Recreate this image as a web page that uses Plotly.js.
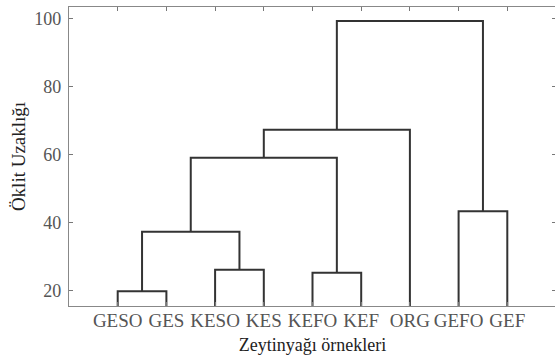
<!DOCTYPE html>
<html>
<head>
<meta charset="utf-8">
<script src="https://cdn.plot.ly/plotly-3.0.1.min.js"></script>
<style>
html, body { margin: 0; padding: 0; overflow: hidden; background: #fff; }
#chart { width: 556px; height: 358px; }
</style>
</head>
<body>
<div id="chart"></div>
<script>
// Leaf labels (in dendrogram order)
const leafLabels = ["GESO", "GES", "KESO", "KES", "KEFO", "KEF", "ORG", "GEFO", "GEF"];
// Linkage: new cluster ids start at leafLabels.length (9, 10, ...)
const mergeLeft   = [0, 4, 2, 9, 7, 12, 14, 15];
const mergeRight  = [1, 5, 3, 11, 8, 10, 6, 13];
const mergeHeight = [19.8, 25.2, 26.1, 37.3, 43.3, 59.0, 67.2, 99.2];
const yTicks = [20, 40, 60, 80, 100];

// Build dendrogram segments from linkage
const nLeaves = leafLabels.length;
const pos = {}, hgt = {};
leafLabels.forEach((l, i) => { pos[i] = i + 1; hgt[i] = 0; });
const xs = [], ys = [];
mergeLeft.forEach((a, k) => {
  const b = mergeRight[k], h = mergeHeight[k], id = nLeaves + k;
  xs.push(pos[a], pos[a], pos[b], pos[b], null);
  ys.push(hgt[a], h, h, hgt[b], null);
  pos[id] = (pos[a] + pos[b]) / 2;
  hgt[id] = h;
});

const trace = {
  x: xs, y: ys, type: 'scatter', mode: 'lines',
  line: { color: '#333333', width: 2 },
  hoverinfo: 'skip', showlegend: false
};

const SERIF = 'Liberation Serif';

const layout = {
  width: 556, height: 358,
  margin: { l: 69, r: 0, t: 7, b: 52 },
  paper_bgcolor: '#ffffff', plot_bgcolor: '#ffffff',
  showlegend: false,
  font: { family: SERIF },
  xaxis: {
    range: [0, 10],
    tickmode: 'array',
    tickvals: leafLabels.map((l, i) => i + 1),
    ticktext: leafLabels,
    ticks: 'inside', ticklen: 4, tickwidth: 1, tickcolor: '#777777',
    ticklabelstandoff: -3,
    showline: true, linecolor: '#888888', linewidth: 1.2, mirror: 'allticks',
    showgrid: false, zeroline: false,
    tickfont: { family: SERIF, size: 19, color: '#555555' },
    title: { text: 'Zeytinyağı örnekleri', standoff: 8,
             font: { family: SERIF, size: 18, color: '#222222' } }
  },
  yaxis: {
    range: [15.45, 103.3],
    tickmode: 'array',
    tickvals: yTicks,
    ticks: 'inside', ticklen: 4, tickwidth: 1, tickcolor: '#777777',
    ticklabelstandoff: 3,
    showline: true, linecolor: '#888888', linewidth: 1.2, mirror: 'allticks',
    showgrid: false, zeroline: false,
    tickfont: { family: SERIF, size: 18, color: '#555555' },
    title: { text: 'Öklit Uzaklığı', standoff: 3,
             font: { family: SERIF, size: 19, color: '#222222' } }
  }
};

Plotly.newPlot('chart', [trace], layout, { staticPlot: true, displayModeBar: false });
</script>
</body>
</html>
